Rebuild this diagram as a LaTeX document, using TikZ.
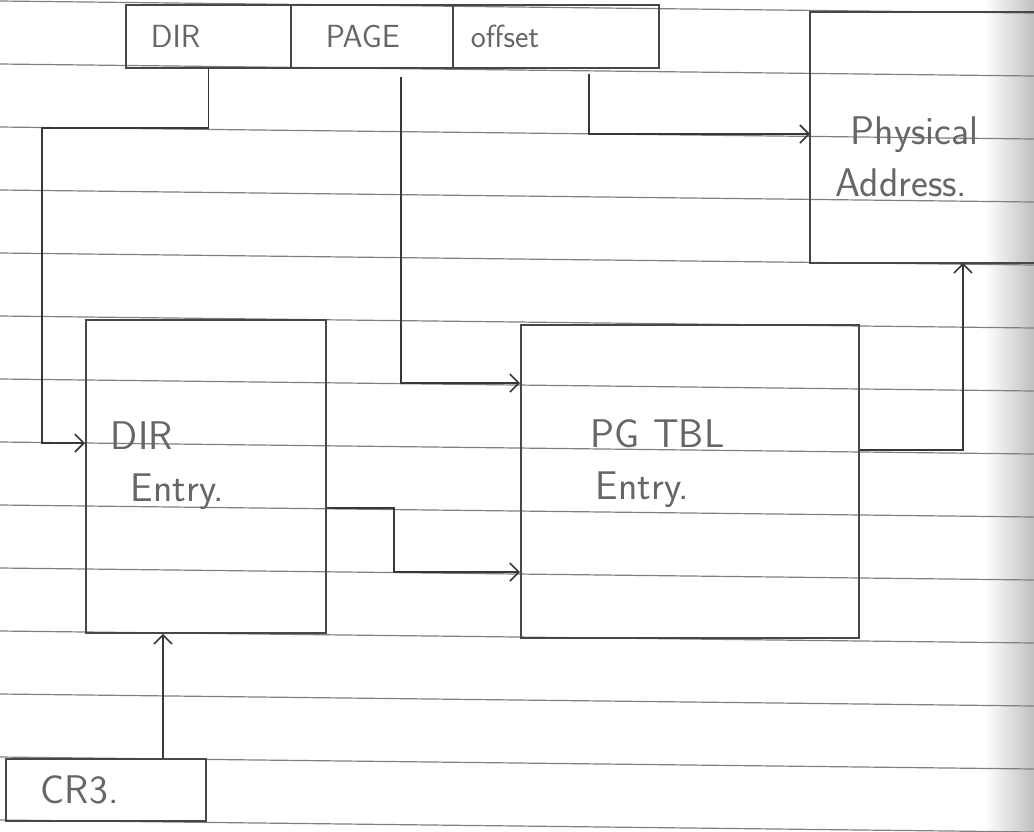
\documentclass[tikz,border=0pt]{standalone}
\usepackage{fontspec}
\usetikzlibrary{arrows.meta}
\begin{document}
\begin{tikzpicture}[x=1pt, y=-1pt,
    >={Straight Barb[length=9pt, width=18pt]},
    pencil/.style={draw=black!72, line width=1.9pt},
    cell/.style={pencil, anchor=north west, minimum height=63pt, inner sep=0pt, align=left, text=black!60, font=\sffamily\fontsize{32}{38}\selectfont},
    entrybox/.style={pencil, anchor=north west, inner sep=0pt, align=left, text=black!60, font=\sffamily\fontsize{40}{52}\selectfont},
    wire/.style={->, draw=black!78, line width=1.6pt}]
    \useasboundingbox (0,0) rectangle (1034,831);
    \fill[white] (0,0) rectangle (1034,831);
    \shade[left color=white, right color=black!25] (985,0) rectangle (1034,831);
    % ruled paper
    \foreach \k in {0,...,13}
        \draw[black!50, line width=1.2pt] (0,1+63*\k) -- (1034,13+63*\k);

    \node[cell, text width=165pt] (dircell) at (125,4) {\hspace*{25pt}DIR};
    \node[cell, text width=162pt] (pagecell) at (290,4) {\hspace*{35pt}PAGE};
    \node[cell, text width=206pt] (offcell) at (452,4) {\hspace*{18pt}offset};

    \node[entrybox, draw=none, text width=224pt, minimum height=249pt] (phys) at (810,12) {\rule{0pt}{66pt}\hspace*{40pt}Physical\\\hspace*{25pt}Address.};
    \draw[pencil] (phys.north east) -- (phys.north west) -- (phys.south west) -- (phys.south east);

    \node[entrybox, text width=240pt, minimum height=313pt] (dirent) at (85,319) {\hspace*{25pt}DIR\\\hspace*{45pt}Entry.\rule[-30pt]{0pt}{30pt}};
    \node[entrybox, text width=338pt, minimum height=313pt] (pgtbl) at (520,324) {\hspace*{70pt}PG TBL\\\hspace*{75pt}Entry.\rule[-44pt]{0pt}{44pt}};
    \node[entrybox, text width=200pt, minimum height=62pt] (cr3) at (5,758) {\hspace*{35pt}CR3.};

    \coordinate (dirbend) at (42,128);
    \coordinate (crtap) at ([xshift=57pt]cr3.north);
    \draw[wire] (dircell.south) |- (dirbend) |- (dirent.west |- 0,443);
    \draw[wire] ([shift={(29pt,-8pt)}]pagecell.south) |- (pgtbl.west |- 0,383);
    \draw[wire] ([shift={(33pt,-5pt)}]offcell.south) |- (phys.west |- 0,134);
    \draw[wire] (dirent.east |- 0,508) -- ++(67,0) |- (pgtbl.west |- 0,572);
    \draw[wire] (pgtbl.east |- 0,450) -| ([xshift=40pt]phys.south);
    \draw[wire] (crtap) -- (crtap |- dirent.south);
\end{tikzpicture}
\end{document}
